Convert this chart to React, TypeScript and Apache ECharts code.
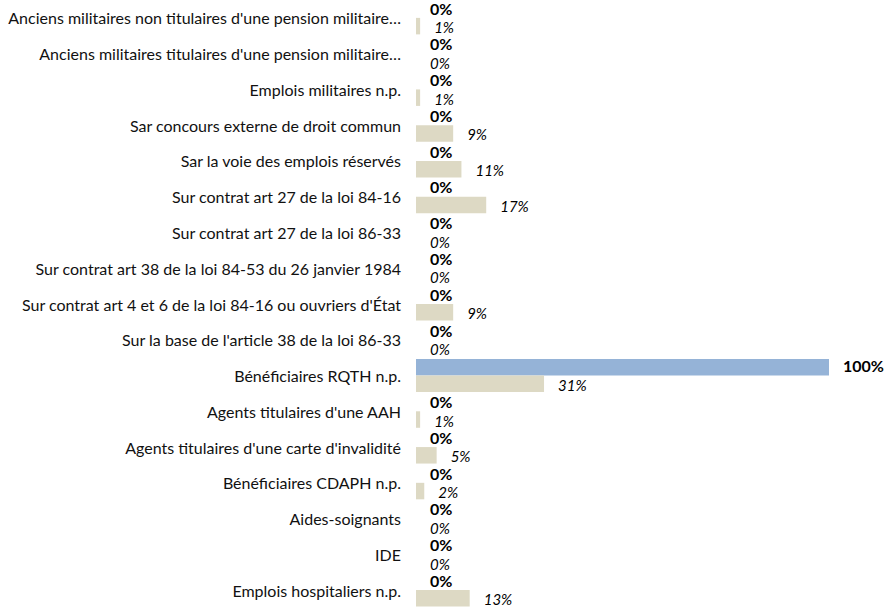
import React, { useEffect, useRef } from "react";
import * as echarts from "echarts";

const categories = [
  "Anciens militaires non titulaires d'une pension militaire…",
  "Anciens militaires titulaires d'une pension militaire…",
  "Emplois militaires n.p.",
  "Sar concours externe de droit commun",
  "Sar la voie des emplois réservés",
  "Sur contrat art 27 de la loi 84-16",
  "Sur contrat art 27 de la loi 86-33",
  "Sur contrat art 38 de la loi 84-53 du 26 janvier 1984",
  "Sur contrat art 4 et 6 de la loi 84-16 ou ouvriers d'État",
  "Sur la base de l'article 38 de la loi 86-33",
  "Bénéficiaires RQTH n.p.",
  "Agents titulaires d'une AAH",
  "Agents titulaires d'une carte d'invalidité",
  "Bénéficiaires CDAPH n.p.",
  "Aides-soignants",
  "IDE",
  "Emplois hospitaliers n.p.",
];

const blueValues = [0, 0, 0, 0, 0, 0, 0, 0, 0, 0, 100, 0, 0, 0, 0, 0, 0];
const beigeValues = [1, 0, 1, 9, 11, 17, 0, 0, 9, 0, 31, 1, 5, 2, 0, 0, 13];

const FONT = "Lato, sans-serif";

export default function App() {
  const ref = useRef<HTMLDivElement>(null);
  useEffect(() => {
    if (!ref.current) return;
    const chart = echarts.init(ref.current, undefined, { renderer: "svg" });
    chart.setOption({
      animation: false,
      textStyle: { fontFamily: FONT },
      grid: { left: 416, right: 58, top: 0, bottom: 5, containLabel: false },
      xAxis: { type: "value", min: 0, max: 100, show: false },
      yAxis: {
        type: "category",
        inverse: true,
        data: categories,
        axisLine: { show: false },
        axisTick: { show: false },
        axisLabel: { margin: 15, fontSize: 16, color: "#111", fontFamily: FONT },
      },
      series: [
        {
          type: "bar",
          data: blueValues,
          barWidth: 16.5,
          barGap: "0%",
          itemStyle: { color: "#95B3D7" },
          label: {
            show: true,
            position: "right",
            distance: 14,
            offset: [0, -1.5],
            formatter: "{c}%",
            fontWeight: "bold",
            fontSize: 16,
            lineHeight: 13,
            color: "#000",
            fontFamily: FONT,
          },
        },
        {
          type: "bar",
          data: beigeValues,
          barWidth: 16.5,
          barGap: "0%",
          itemStyle: { color: "#DDD9C4" },
          label: {
            show: true,
            position: "right",
            distance: 14,
            offset: [0, 1],
            formatter: "{c}%",
            fontStyle: "italic",
            fontSize: 15,
            lineHeight: 13,
            color: "#000",
            fontFamily: FONT,
          },
        },
      ],
    });
    return () => chart.dispose();
  }, []);
  return (
    <div
      ref={ref}
      style={{ position: "fixed", left: 0, top: 0, width: 887, height: 613, background: "#fff" }}
    />
  );
}
